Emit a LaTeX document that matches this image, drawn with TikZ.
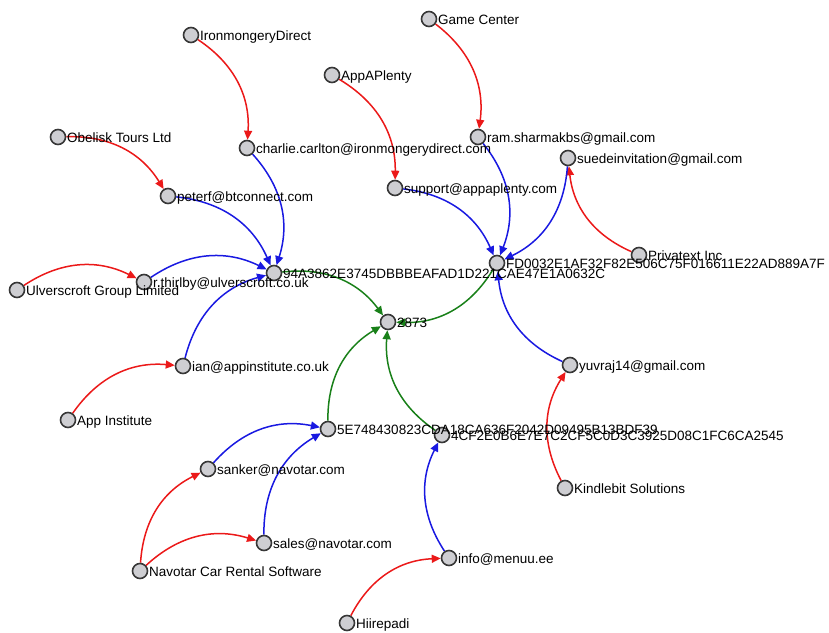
\documentclass[tikz,border=0pt]{standalone}
\usepackage{fontspec}
\setmainfont{Liberation Sans}
\usetikzlibrary{arrows.meta,backgrounds}
\definecolor{nfill}{RGB}{206,206,210}
\definecolor{nline}{RGB}{55,55,55}
\definecolor{ered}{RGB}{235,25,25}
\definecolor{eblue}{RGB}{25,25,225}
\definecolor{egreen}{RGB}{25,128,25}
\pgfdeclarelayer{fg}
\pgfsetlayers{background,main,fg}
\newcommand\gn[4]{%
  \node[dot] (#1) at (#2,#3) {};
  \begin{pgfonlayer}{fg}
    \node[lbl] (#1-l) at ([xshift=9pt,yshift=-5pt]#1.center) {#4};
  \end{pgfonlayer}}
\begin{document}
\begin{tikzpicture}[x=1pt,y=-1pt,
  dot/.style={circle,draw=nline,fill=nfill,line width=1.6pt,minimum size=15pt,inner sep=0pt},
  lbl/.style={anchor=base west,inner sep=0pt,text=black,font=\fontsize{13.5}{15}\selectfont},
  edge/.style={line width=1.5pt,-{Triangle[length=9pt,width=8pt]},bend left=30},
  redge/.style={edge,draw=ered},
  bedge/.style={edge,draw=eblue},
  gedge/.style={edge,draw=egreen}]
\useasboundingbox (0,0) rectangle (829,632);
\gn{iron}{191}{35}{IronmongeryDirect}
\gn{game}{429}{19}{Game Center}
\gn{appa}{332}{75}{AppAPlenty}
\gn{obel}{58}{137}{Obelisk Tours Ltd}
\gn{charlie}{247}{148}{charlie.carlton@ironmongerydirect.com}
\gn{ram}{478}{137}{ram.sharmakbs@gmail.com}
\gn{suede}{568}{158}{suedeinvitation@gmail.com}
\gn{support}{395}{188}{support@appaplenty.com}
\gn{peterf}{168}{196}{peterf@btconnect.com}
\gn{priv}{639}{255}{Privatext Inc}
\gn{hFD}{497}{263}{FD0032E1AF32F82E506C75F016611E22AD889A7F}
\gn{h94}{274}{273}{94A3862E3745DBBBEAFAD1D221CAE47E1A0632C}
\gn{ulver}{17}{290}{Ulverscroft Group Limited}
\gn{thirlby}{144}{282}{r.thirlby@ulverscroft.co.uk}
\gn{n2873}{388}{322}{2873}
\gn{ian}{183}{366}{ian@appinstitute.co.uk}
\gn{yuvraj}{570}{365}{yuvraj14@gmail.com}
\gn{appi}{68}{420}{App Institute}
\gn{h4C}{442}{435}{4CF2E0B6E7E7C2CF5C0D3C3925D08C1FC6CA2545}
\gn{h5E}{328}{429}{5E748430823CDA18CA636F2042D09495B13BDF39}
\gn{sanker}{208}{469}{sanker@navotar.com}
\gn{kindle}{565}{488}{Kindlebit Solutions}
\gn{sales}{264}{543}{sales@navotar.com}
\gn{navo}{140}{571}{Navotar Car Rental Software}
\gn{info}{449}{558}{info@menuu.ee}
\gn{hiire}{347}{623}{Hiirepadi}
\begin{scope}[on background layer]
\draw[redge] (iron) to (charlie);
\draw[redge] (game) to (ram);
\draw[redge] (appa) to (support);
\draw[redge] (obel) to (peterf);
\draw[redge] (ulver) to (thirlby);
\draw[redge] (appi) to (ian);
\draw[redge] (navo) to (sanker);
\draw[redge] (navo) to (sales);
\draw[redge] (hiire) to (info);
\draw[redge] (kindle) to (yuvraj);
\draw[redge] (priv) to (suede);
\draw[bedge] (charlie) to (h94);
\draw[bedge] (peterf) to (h94);
\draw[bedge] (thirlby) to (h94);
\draw[bedge] (ian) to (h94);
\draw[bedge] (ram) to (hFD);
\draw[bedge] (support) to (hFD);
\draw[bedge] (suede) to (hFD);
\draw[bedge] (yuvraj) to (hFD);
\draw[bedge] (sanker) to (h5E);
\draw[bedge] (sales) to (h5E);
\draw[bedge] (info) to (h4C);
\draw[gedge] (h94) to (n2873);
\draw[gedge] (hFD) to (n2873);
\draw[gedge] (h5E) to (n2873);
\draw[gedge] (h4C) to (n2873);
\end{scope}
\end{tikzpicture}
\end{document}
